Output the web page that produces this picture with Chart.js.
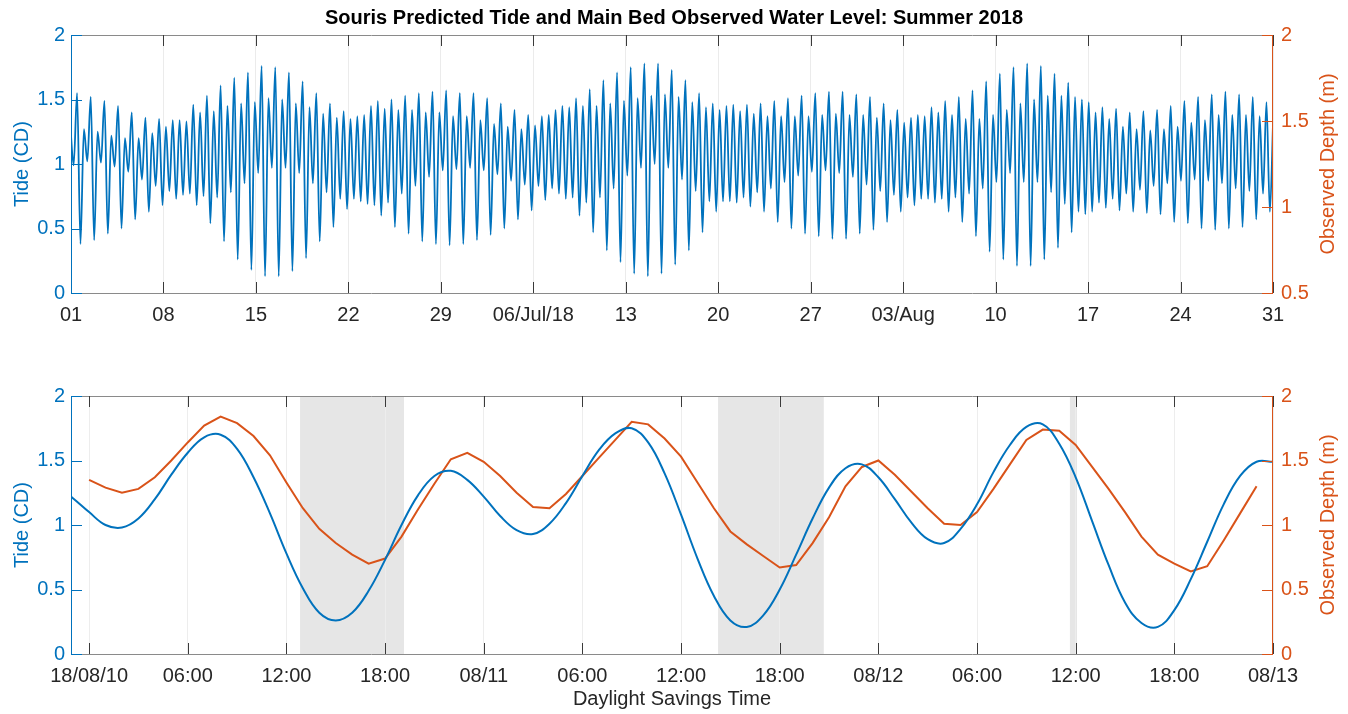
<!DOCTYPE html>
<html>
<head>
<meta charset="utf-8">
<script src="https://cdn.jsdelivr.net/npm/chart.js@4.4.1/dist/chart.umd.min.js"></script>
<style>
  html, body { margin: 0; padding: 0; background: #ffffff; width: 1348px; height: 714px; overflow: hidden; }
  #topChart { position: absolute; left: 0; top: 0; }
  #bottomChart { position: absolute; left: 0; top: 350px; }
</style>
</head>
<body>
<canvas id="topChart" width="1348" height="350"></canvas>
<canvas id="bottomChart" width="1348" height="364"></canvas>
<script>
// ---------------- DATA ----------------
const chartTitle = 'Souris Predicted Tide and Main Bed Observed Water Level: Summer 2018';
const leftAxisTitle = 'Tide (CD)';
const rightAxisTitle = 'Observed Depth (m)';
const bottomAxisTitle = 'Daylight Savings Time';

// Top panel: hours since 2018-06-01 00:00
const topTickHours = [0, 168, 336, 504, 672, 840, 1008, 1176, 1344, 1512, 1680, 1848, 2016, 2184];
const topTickLabels = ['01', '08', '15', '22', '29', '06/Jul/18', '13', '20', '27', '03/Aug', '10', '17', '24', '31'];
const tideTicks = [0, 0.5, 1, 1.5, 2];
const topDepthTicks = [0.5, 1, 1.5, 2];

// Tide turning points, one entry per tidal day
// (order within a tidal day: high 1, low 1, high 2, low 2), spaced every tideStepHours.
const tideStepHours = 6.21;
const firstTurnHour = -1.4;
const tideHigh1 = [1.31,1.27,1.25,1.22,1.20,1.20,1.24,1.29,1.34,1.46,
  1.53,1.61,1.67,1.71,1.76,1.75,1.71,1.64,1.55,1.47,
  1.41,1.37,1.45,1.43,1.42,1.42,1.40,1.40,1.37,1.37,
  1.34,1.31,1.29,1.27,1.30,1.38,1.45,1.51,1.58,1.65,
  1.71,1.75,1.78,1.78,1.73,1.65,1.55,1.47,1.45,1.41,
  1.39,1.37,1.37,1.37,1.37,1.38,1.39,1.38,1.38,1.36,
  1.34,1.32,1.38,1.44,1.49,1.52,1.57,1.64,1.70,1.75,
  1.78,1.76,1.70,1.63,1.50,1.40,1.35,1.29,1.27,1.26,
  1.27,1.29,1.32,1.34,1.38,1.38,1.38,1.37,1.38];
const tideLow1 = [0.99,1.02,1.01,0.98,0.94,0.88,0.83,0.79,0.76,0.68,
  0.54,0.40,0.26,0.18,0.13,0.13,0.17,0.27,0.40,0.51,
  0.65,0.71,0.68,0.70,0.77,0.83,0.90,0.95,0.96,0.97,
  0.95,0.92,0.87,0.84,0.83,0.81,0.73,0.60,0.47,0.33,
  0.24,0.15,0.13,0.15,0.22,0.33,0.47,0.63,0.71,0.74,
  0.78,0.81,0.86,0.91,0.94,0.95,0.93,0.90,0.84,0.79,
  0.76,0.74,0.73,0.70,0.63,0.55,0.44,0.32,0.26,0.21,
  0.21,0.26,0.35,0.47,0.61,0.70,0.73,0.77,0.80,0.83,
  0.85,0.87,0.88,0.87,0.85,0.81,0.79,0.77];
const tideHigh2 = [1.55,1.52,1.49,1.45,1.40,1.36,1.35,1.34,1.33,1.40,
  1.41,1.45,1.47,1.48,1.51,1.50,1.47,1.44,1.39,1.36,
  1.35,1.38,1.49,1.50,1.53,1.55,1.56,1.57,1.55,1.55,
  1.51,1.47,1.42,1.38,1.37,1.42,1.44,1.45,1.45,1.47,
  1.49,1.51,1.53,1.54,1.52,1.48,1.44,1.42,1.46,1.46,
  1.47,1.49,1.51,1.53,1.55,1.56,1.56,1.54,1.52,1.47,
  1.42,1.36,1.37,1.40,1.38,1.35,1.35,1.38,1.42,1.47,
  1.50,1.53,1.53,1.52,1.48,1.44,1.43,1.40,1.41,1.42,
  1.45,1.49,1.52,1.54,1.56,1.54,1.52,1.48];
const tideLow2 = [0.38,0.41,0.46,0.50,0.57,0.63,0.68,0.73,0.77,0.75,
  0.74,0.78,0.85,0.93,0.97,0.97,0.93,0.85,0.78,0.73,
  0.73,0.69,0.60,0.51,0.46,0.40,0.38,0.37,0.38,0.41,
  0.45,0.50,0.57,0.64,0.72,0.77,0.74,0.70,0.74,0.81,
  0.91,0.97,1.00,0.97,0.88,0.79,0.71,0.71,0.70,0.67,
  0.63,0.55,0.50,0.46,0.44,0.42,0.42,0.46,0.49,0.55,
  0.63,0.68,0.73,0.73,0.74,0.77,0.81,0.86,0.93,0.86,
  0.86,0.78,0.69,0.63,0.63,0.66,0.64,0.63,0.62,0.61,
  0.55,0.54,0.50,0.49,0.50,0.51,0.57,0.63];

// Bottom panel: hours since 2018-08-10 00:00
const bottomMinHour = -1.1;
const bottomMaxHour = 72;
const bottomTickHours = [0, 6, 12, 18, 24, 30, 36, 42, 48, 54, 60, 66, 72];
const bottomTickLabels = ['18/08/10', '06:00', '12:00', '18:00', '08/11', '06:00', '12:00', '18:00', '08/12', '06:00', '12:00', '18:00', '08/13'];
const depthTicks = [0, 0.5, 1, 1.5, 2];

const predictedHours = [-2,-1,0,1,2,3,4,5,6,7,8,9,10,11,12,13,14,15,16,17,18,19,20,21,22,23,24,
  25,26,27,28,29,30,31,32,33,34,35,36,37,38,39,40,41,42,43,44,45,46,47,48,
  49,50,51,52,53,54,55,56,57,58,59,60,61,62,63,64,65,66,67,68,69,70,71,72];
const predictedTide = [1.31,1.21,1.10,1.00,0.98,1.05,1.20,1.39,1.56,1.68,1.70,1.59,1.37,1.09,0.78,0.51,0.32,0.26,0.32,0.49,0.73,1.00,1.23,1.38,1.42,1.35,1.22,
  1.07,0.96,0.93,1.01,1.17,1.38,1.58,1.71,1.75,1.64,1.40,1.08,0.74,0.45,0.26,0.21,0.30,0.50,0.77,1.05,1.29,1.44,1.47,1.37,
  1.20,1.02,0.89,0.86,0.97,1.16,1.41,1.62,1.76,1.78,1.63,1.37,1.03,0.69,0.40,0.24,0.21,0.34,0.58,0.87,1.16,1.38,1.49,1.49];

const observedHours = [0,1,2,3,4,5,6,7,8,9,10,11,12,13,14,15,16,17,18,19,20,21,22,23,24,
  25,26,27,28,29,30,31,32,33,34,35,36,37,38,39,40,41,42,43,44,45,46,47,48,
  49,50,51,52,53,54,55,56,57,58,59,60,61,62,63,64,65,66,67,68,69,70,71];
const observedDepth = [1.35,1.29,1.25,1.28,1.37,1.50,1.64,1.77,1.84,1.79,1.69,1.54,1.33,1.13,0.97,0.86,0.77,0.70,0.74,0.91,1.12,1.32,1.51,1.56,1.49,
  1.38,1.25,1.14,1.13,1.24,1.38,1.52,1.66,1.80,1.78,1.67,1.53,1.33,1.13,0.95,0.85,0.76,0.67,0.69,0.86,1.06,1.30,1.45,1.50,
  1.39,1.26,1.13,1.01,1.00,1.10,1.28,1.47,1.66,1.74,1.73,1.62,1.45,1.28,1.10,0.91,0.77,0.70,0.64,0.68,0.88,1.09,1.30];

// Shaded intervals (hours since 2018-08-10 00:00)
const shadeStart = [12.83, 38.25, 59.65];
const shadeEnd = [19.15, 44.68, 60.08];

// ---------------- STYLE ----------------
const BLUE = '#0072BD';
const ORANGE = '#D95319';
const TEXT = '#262626';
const FONT = '"Liberation Sans", Arial, Helvetica, sans-serif';
Chart.defaults.font.family = FONT;
Chart.defaults.font.size = 20;
Chart.defaults.color = TEXT;

function fixedTicks(values) {
  return (scale) => { scale.ticks = values.map(v => ({ value: v })); };
}

const framePlugin = {
  id: 'frame',
  beforeDraw(chart, args, opts) {
    if (!opts.shades) return;
    const { ctx, chartArea: a, scales: { x } } = chart;
    ctx.save();
    ctx.fillStyle = '#e6e6e6';
    opts.shades.forEach(([s, e]) => {
      const x0 = x.getPixelForValue(s), x1 = x.getPixelForValue(e);
      ctx.fillRect(x0, a.top, x1 - x0, a.bottom - a.top);
    });
    ctx.restore();
  },
  afterDraw(chart, args, opts) {
    const { ctx, chartArea: a, scales } = chart;
    const TL = 11;
    const seg = (x0, y0, x1, y1) => { ctx.beginPath(); ctx.moveTo(x0, y0); ctx.lineTo(x1, y1); ctx.stroke(); };
    ctx.save();
    ctx.lineWidth = 1;
    ctx.strokeStyle = '#8a8a8a';
    seg(a.left, a.top + 0.5, a.right, a.top + 0.5);
    seg(a.left, a.bottom + 0.5, a.right, a.bottom + 0.5);
    ctx.strokeStyle = '#3a3a3a';
    scales.x.ticks.forEach(t => {
      const px = Math.round(scales.x.getPixelForValue(t.value)) + 0.5;
      seg(px, a.bottom, px, a.bottom - TL);
      seg(px, a.top, px, a.top + TL);
    });
    ctx.strokeStyle = BLUE;
    seg(a.left + 0.5, a.top, a.left + 0.5, a.bottom + 1);
    scales.y.ticks.forEach(t => {
      const py = Math.round(scales.y.getPixelForValue(t.value)) + 0.5;
      seg(a.left, py, a.left + TL, py);
    });
    ctx.strokeStyle = ORANGE;
    seg(a.right - 0.5, a.top, a.right - 0.5, a.bottom + 1);
    scales.y1.ticks.forEach(t => {
      const py = Math.round(scales.y1.getPixelForValue(t.value)) + 0.5;
      seg(a.right, py, a.right - TL, py);
    });
    ctx.fillStyle = ORANGE;
    ctx.font = '20px ' + FONT;
    ctx.textAlign = 'center';
    ctx.textBaseline = 'middle';
    ctx.translate(1328, (a.top + a.bottom) / 2);
    ctx.rotate(-Math.PI / 2);
    ctx.fillText(rightAxisTitle, 0, 0);
    ctx.restore();
  }
};

// ---------------- TOP CHART ----------------
const tidePoints = [];
for (let j = 0; j < tideHigh1.length; j++) {
  const day = [tideHigh1[j], tideLow1[j], tideHigh2[j], tideLow2[j]];
  day.forEach((v, s) => {
    if (v === undefined) return;
    const k = 4 * j + s;
    tidePoints.push({ x: firstTurnHour + k * tideStepHours, y: v });
  });
}

new Chart(document.getElementById('topChart'), {
  type: 'line',
  data: {
    datasets: [{
      data: tidePoints,
      borderColor: BLUE,
      borderWidth: 1.8,
      pointRadius: 0,
      cubicInterpolationMode: 'monotone',
      yAxisID: 'y'
    }]
  },
  options: {
    responsive: false,
    animation: false,
    devicePixelRatio: 1,
    layout: { padding: { top: 0, left: 0, right: 0, bottom: 0 } },
    plugins: {
      legend: { display: false },
      tooltip: { enabled: false },
      title: {
        display: true, text: chartTitle, color: '#000000',
        font: { size: 20, weight: 'bold' }, padding: { top: 6, bottom: 5 }
      },
      frame: {}
    },
    scales: {
      x: {
        type: 'linear', position: 'bottom', min: topTickHours[0], max: topTickHours[topTickHours.length - 1],
        afterBuildTicks: fixedTicks(topTickHours),
        afterFit: (s) => { s.height = 57; },
        ticks: { autoSkip: false, maxRotation: 0, padding: 10, color: TEXT, callback: (v, i) => topTickLabels[i] },
        grid: { color: '#ebebeb', drawTicks: false },
        border: { display: false }
      },
      y: {
        position: 'left', min: 0, max: 2,
        afterBuildTicks: fixedTicks(tideTicks),
        afterFit: (s) => { s.width = 71; },
        ticks: { color: BLUE, padding: 6, callback: (v) => String(v) },
        grid: { display: false, drawTicks: false },
        border: { display: false },
        title: { display: true, text: leftAxisTitle, color: BLUE, font: { size: 20 }, padding: { top: 10, bottom: 0 } }
      },
      y1: {
        position: 'right', min: 0.5, max: 2,
        afterBuildTicks: fixedTicks(topDepthTicks),
        afterFit: (s) => { s.width = 75; },
        ticks: { color: ORANGE, padding: 8, callback: (v) => String(v) },
        grid: { display: false, drawTicks: false },
        border: { display: false }
      }
    }
  },
  plugins: [framePlugin]
});

// ---------------- BOTTOM CHART ----------------
const predictedPoints = predictedHours.map((h, i) => ({ x: h, y: predictedTide[i] }));
const observedPoints = observedHours.map((h, i) => ({ x: h, y: observedDepth[i] }));

new Chart(document.getElementById('bottomChart'), {
  type: 'line',
  data: {
    datasets: [
      { data: predictedPoints, borderColor: BLUE, borderWidth: 2, pointRadius: 0, tension: 0.4, yAxisID: 'y' },
      { data: observedPoints, borderColor: ORANGE, borderWidth: 2, pointRadius: 0, tension: 0, yAxisID: 'y1' }
    ]
  },
  options: {
    responsive: false,
    animation: false,
    devicePixelRatio: 1,
    layout: { padding: { top: 46, left: 0, right: 0, bottom: 0 } },
    plugins: {
      legend: { display: false },
      tooltip: { enabled: false },
      title: { display: false },
      frame: { shades: shadeStart.map((s, i) => [s, shadeEnd[i]]) }
    },
    scales: {
      x: {
        type: 'linear', position: 'bottom', min: bottomMinHour, max: bottomMaxHour,
        afterBuildTicks: fixedTicks(bottomTickHours),
        afterFit: (s) => { s.height = 60; },
        ticks: { autoSkip: false, maxRotation: 0, padding: 10, color: TEXT, callback: (v, i) => bottomTickLabels[i] },
        grid: { color: '#ededed', drawTicks: false },
        border: { display: false },
        title: { display: true, text: bottomAxisTitle, color: TEXT, font: { size: 20 }, padding: { top: 0, bottom: 3 } }
      },
      y: {
        position: 'left', min: 0, max: 2,
        afterBuildTicks: fixedTicks(tideTicks),
        afterFit: (s) => { s.width = 71; },
        ticks: { color: BLUE, padding: 6, callback: (v) => String(v) },
        grid: { display: false, drawTicks: false },
        border: { display: false },
        title: { display: true, text: leftAxisTitle, color: BLUE, font: { size: 20 }, padding: { top: 10, bottom: 0 } }
      },
      y1: {
        position: 'right', min: 0, max: 2,
        afterBuildTicks: fixedTicks(depthTicks),
        afterFit: (s) => { s.width = 75; },
        ticks: { color: ORANGE, padding: 8, callback: (v) => String(v) },
        grid: { display: false, drawTicks: false },
        border: { display: false }
      }
    }
  },
  plugins: [framePlugin]
});
</script>
</body>
</html>
